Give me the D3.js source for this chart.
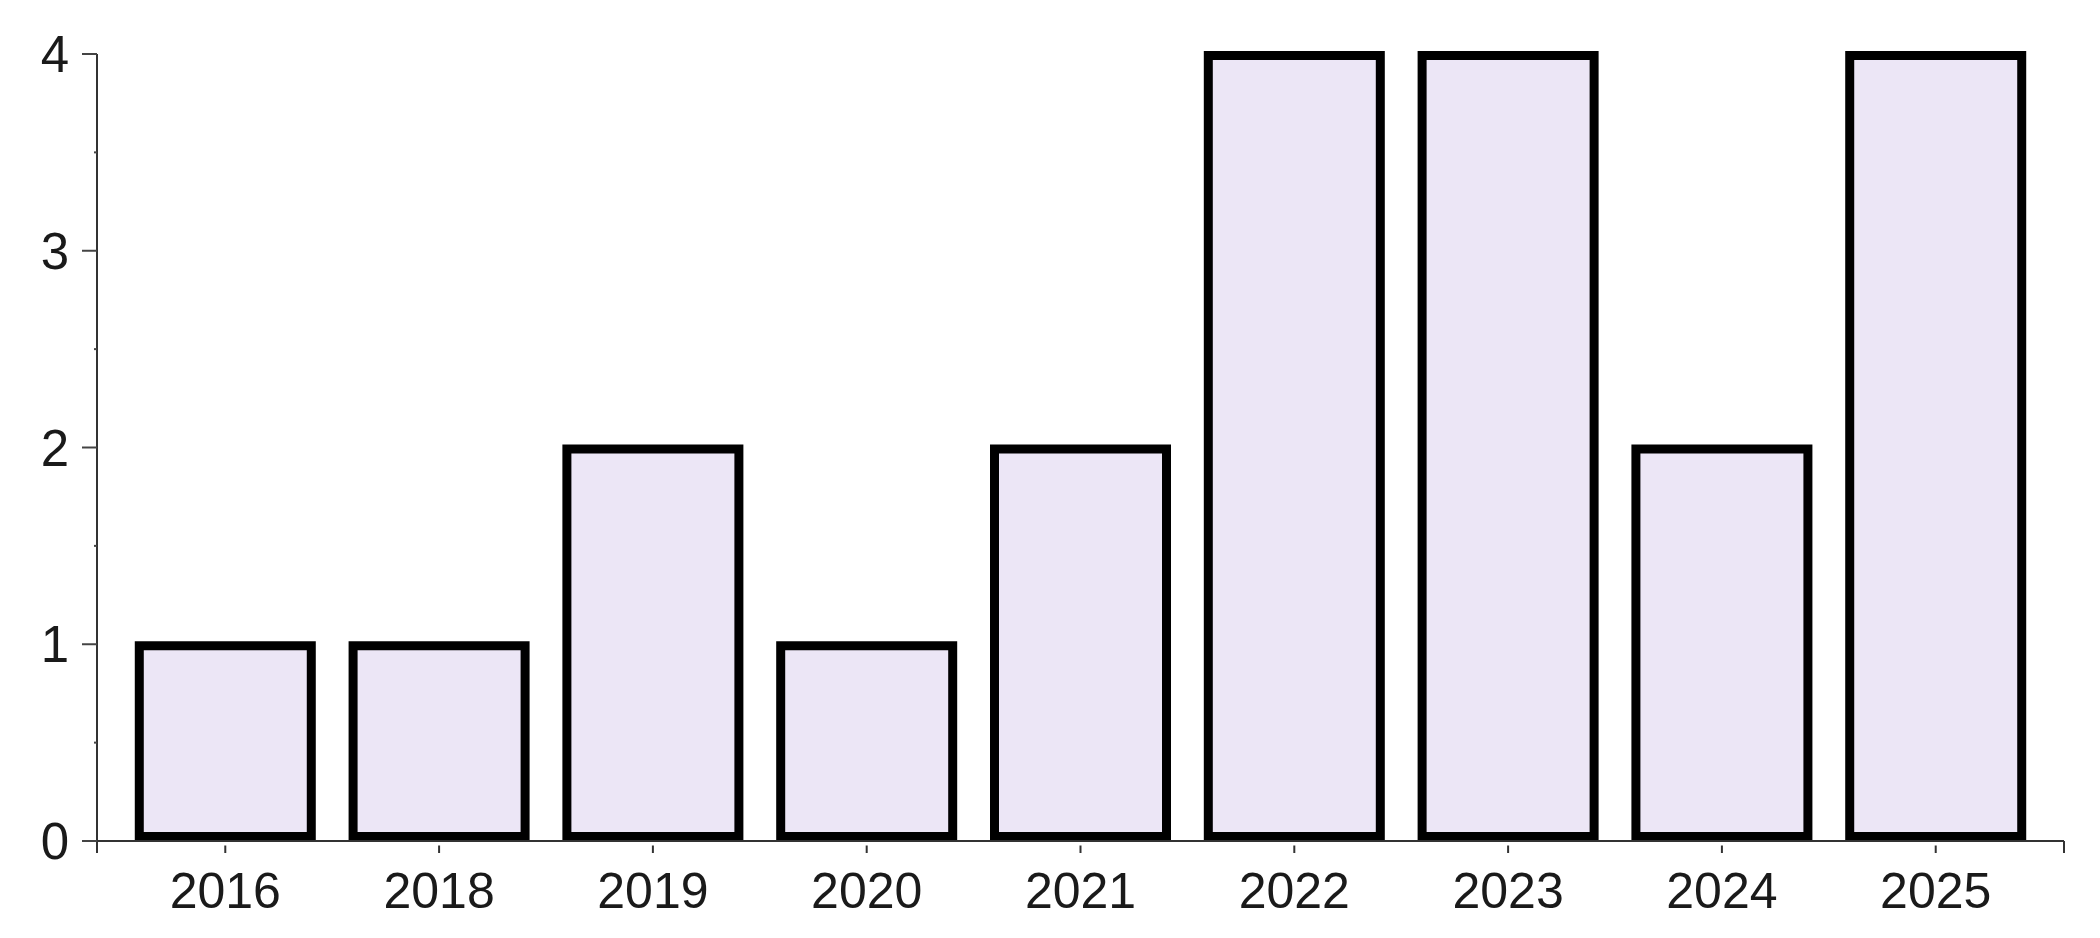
<!DOCTYPE html>
<html>
<head>
<meta charset="utf-8">
<script src="https://cdn.jsdelivr.net/npm/d3@7"></script>
<style>
  body { margin: 0; background: #fff; }
  text { font-family: "Liberation Sans", Arial, sans-serif; fill: #1a1a1a; }
</style>
</head>
<body>
<svg id="chart"></svg>
<script>
  // data
  var years = ['2016', '2018', '2019', '2020', '2021', '2022', '2023', '2024', '2025'];
  var counts = [1, 1, 2, 1, 2, 4, 4, 2, 4];
  var yTicks = [0, 1, 2, 3, 4];

  var width = 2100;
  var height = 938;
  var margin = {top: 54, right: 36, bottom: 96, left: 97};

  var svg = d3.select('#chart')
    .attr('width', width)
    .attr('height', height);

  var x = d3.scalePoint()
    .domain(years)
    .range([margin.left, width - margin.right])
    .padding(0.6);

  var y = d3.scaleLinear()
    .domain([0, 4])
    .range([height - margin.bottom - 1, margin.top]);

  var barW = 172;
  var sw = 9;

  // bars (drawn under the axis line)
  svg.selectAll('.bar').data(years)
    .enter()
    .append('rect')
      .attr('class', 'bar')
      .attr('x', function (d) { return x(d) - barW / 2; })
      .attr('y', function (d, i) { return y(counts[i]) + sw / 2 - 3; })
      .attr('width', barW)
      .attr('height', function (d, i) { return y(0) - y(counts[i]) - sw + 3; })
      .attr('fill', '#ece6f6')
      .attr('stroke', '#000')
      .attr('stroke-width', sw);

  // x axis
  var xAxis = svg.append('g')
    .attr('transform', 'translate(0,' + y(0) + ')');
  xAxis.append('line')
    .attr('x1', margin.left).attr('x2', width - margin.right)
    .attr('y1', 0).attr('y2', 0)
    .attr('stroke', '#333').attr('stroke-width', 2);
  xAxis.selectAll('.xtick').data([margin.left, width - margin.right])
    .enter()
    .append('line')
      .attr('x1', function (d) { return d; }).attr('x2', function (d) { return d; })
      .attr('y1', 0).attr('y2', 12)
      .attr('stroke', '#333').attr('stroke-width', 2);
  xAxis.selectAll('.tk').data(years)
    .enter()
    .append('line')
      .attr('x1', function (d) { return x(d); }).attr('x2', function (d) { return x(d); })
      .attr('y1', sw / 2).attr('y2', 12)
      .attr('stroke', '#333').attr('stroke-width', 2);
  xAxis.selectAll('.lbl').data(years)
    .enter()
    .append('text')
      .attr('x', function (d) { return x(d); })
      .attr('y', 67)
      .attr('text-anchor', 'middle')
      .style('font-size', '50px')
      .text(function (d) { return d; });

  // y axis
  var yAxis = svg.append('g')
    .attr('transform', 'translate(' + margin.left + ',0)');
  yAxis.append('line')
    .attr('x1', 0).attr('x2', 0)
    .attr('y1', y(4)).attr('y2', y(0) + 12)
    .attr('stroke', '#333').attr('stroke-width', 2);
  yAxis.selectAll('.ytk').data(yTicks)
    .enter()
    .append('line')
      .attr('x1', -15).attr('x2', 0)
      .attr('y1', function (d) { return y(d); }).attr('y2', function (d) { return y(d); })
      .attr('stroke', '#444').attr('stroke-width', 2);
  // minor ticks at half steps
  yAxis.selectAll('.ymin').data([0.5, 1.5, 2.5, 3.5])
    .enter()
    .append('line')
      .attr('x1', -3).attr('x2', 0)
      .attr('y1', function (d) { return y(d); }).attr('y2', function (d) { return y(d); })
      .attr('stroke', '#444').attr('stroke-width', 2);
  yAxis.selectAll('.ylbl').data(yTicks)
    .enter()
    .append('text')
      .attr('x', -28)
      .attr('y', function (d) { return y(d) + 18; })
      .attr('text-anchor', 'end')
      .style('font-size', '51px')
      .text(function (d) { return d; });
</script>
</body>
</html>
